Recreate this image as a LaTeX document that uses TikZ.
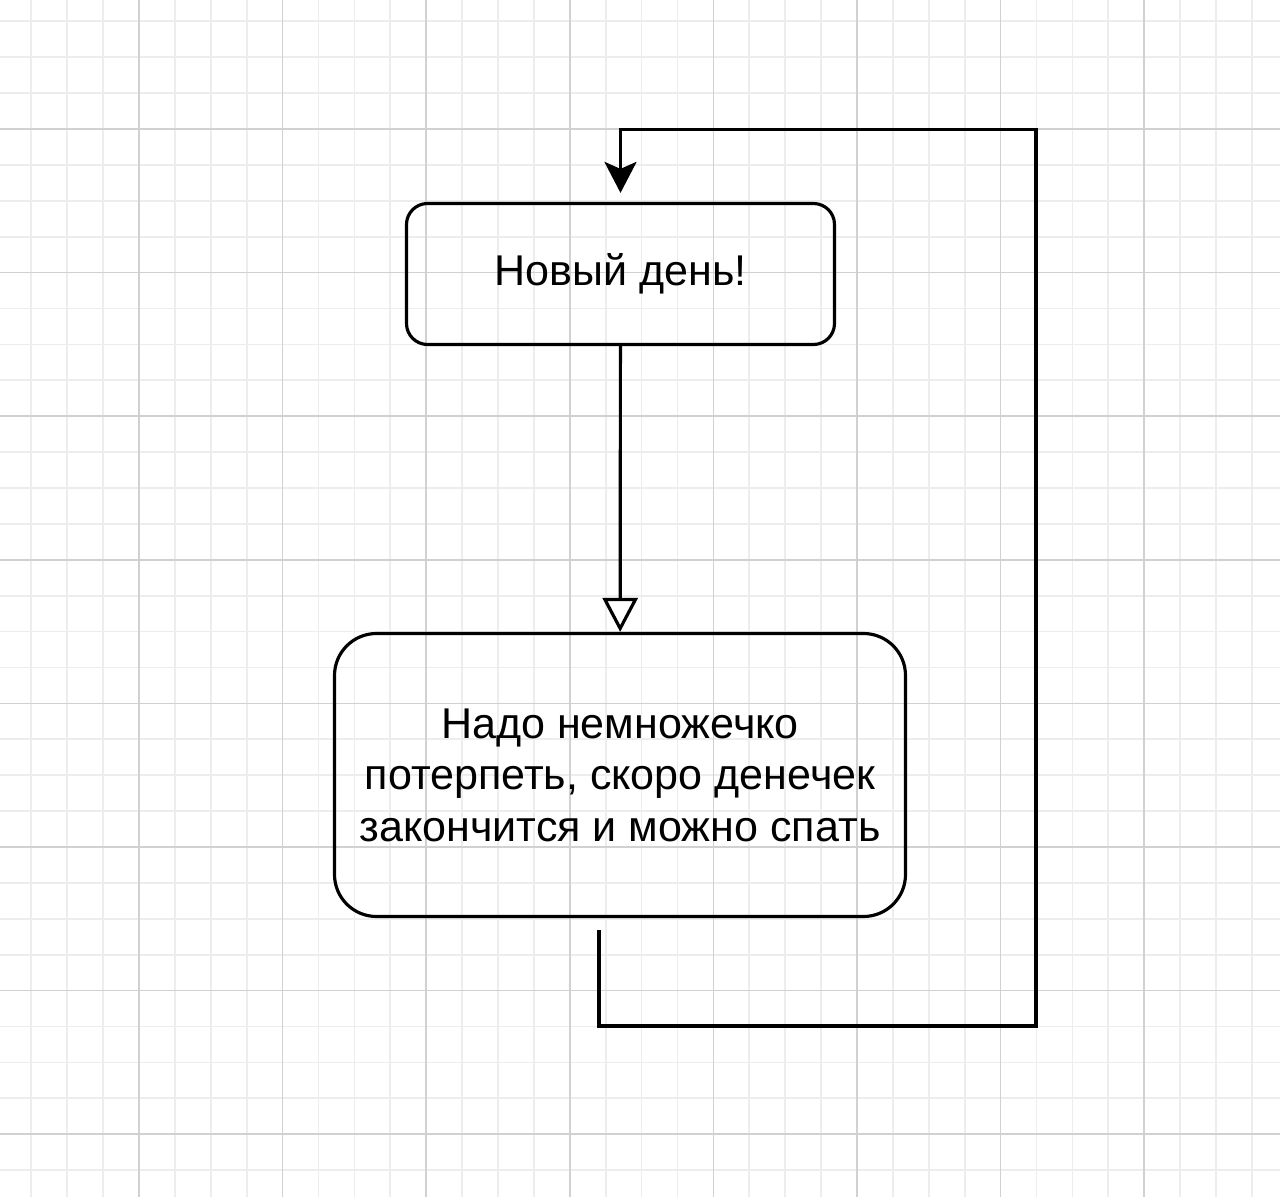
\documentclass[tikz,border=0pt]{standalone}
\usepackage{fontspec}
\setmainfont{Liberation Sans}
\usetikzlibrary{arrows.meta}

\begin{document}
\begin{tikzpicture}[
        box/.style={draw, line width=1.8pt, align=center, inner sep=0pt,
          font=\fontsize{24.5}{29.3}\selectfont},
        flow/.style={line width=1.8pt},
        minorgrid/.style={draw=black!7, line width=1pt},
        majorgrid/.style={draw=black!18, line width=1pt}]

      \useasboundingbox (0,0) rectangle (25.6,-23.94);

      % Background grid
      \foreach \k in {-3,...,31}
        \draw[minorgrid] ({2.78+0.718*\k},0) -- ({2.78+0.718*\k},-23.94);
      \foreach \k in {-3,...,29}
        \draw[minorgrid] (0,{-2.58-0.718*\k}) -- (25.6,{-2.58-0.718*\k});
      \foreach \k in {0,...,7}
        \draw[majorgrid] ({2.78+2.872*\k},0) -- ({2.78+2.872*\k},-23.94);
      \foreach \k in {0,...,7}
        \draw[majorgrid] (0,{-2.58-2.872*\k}) -- (25.6,{-2.58-2.872*\k});

      % Boxes
      \node[box, rounded corners=0.42cm, minimum width=8.56cm, minimum height=2.82cm]
        (day) at (12.41,-5.48) {Новый день!};
      \node[box, rounded corners=0.84cm, minimum width=11.42cm, minimum height=5.66cm]
        (wait) at (12.4,-15.5) {Надо немножечко\\потерпеть, скоро денечек\\закончится и можно спать};

      % Loop points
      \coordinate (loopstart) at ([xshift=-0.42cm, yshift=-0.24cm]wait.south);
      \coordinate (back) at (20.72,-20.52);
      \coordinate (daytop) at ([yshift=0.18cm]day.north);

      % Connections
      \draw[flow, -{Triangle[fill=white, length=0.68cm, width=0.7cm]}] (day) -- (wait);
      \draw[flow, -{Stealth[length=0.62cm, width=0.64cm, inset=0.14cm]}]
        (loopstart) |- (back) |- ([yshift=1.44cm]day.north) -- (daytop);
    \end{tikzpicture}
\end{document}
